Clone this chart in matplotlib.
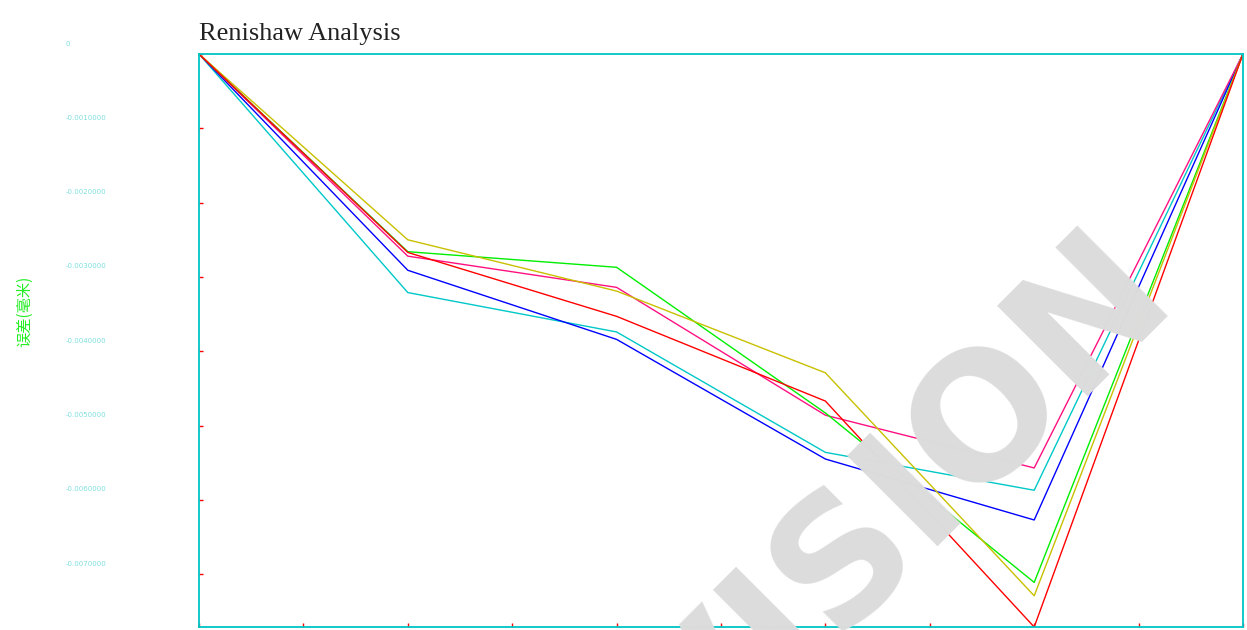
import matplotlib
matplotlib.use("Agg")
import matplotlib.pyplot as plt
import matplotlib.transforms as mtransforms

# measurement positions and deviation per run (mm)
positions = [0, 2, 4, 6, 8, 10]
run_cyan = [0, -0.00321, -0.00374, -0.00536, -0.00587, 0]
run_blue = [0, -0.00291, -0.00384, -0.00545, -0.00627, 0]
run_magenta = [0, -0.00272, -0.00314, -0.00486, -0.00557, 0]
run_green = [0, -0.00266, -0.00287, -0.00483, -0.00711, 0]
run_yellow = [0, -0.00250, -0.00319, -0.00429, -0.00729, 0]
run_red = [0, -0.00267, -0.00353, -0.00467, -0.00771, 0]

x_ticks = list(range(0, 11))
y_ticks = [0, -0.001, -0.002, -0.003, -0.004, -0.005, -0.006, -0.007]
y_tick_labels = ["0", "-0.0010000", "-0.0020000", "-0.0030000",
                 "-0.0040000", "-0.0050000", "-0.0060000", "-0.0070000"]

frame = "#00c4c4"

fig = plt.figure(figsize=(12.47, 6.30), dpi=100)
ax = fig.add_axes([199 / 1247, 3 / 630, 1044 / 1247, 573 / 630])

# watermark behind the curves
fig.text(0.725, 0.19, "VISION", rotation=45, fontsize=125, fontweight="bold",
         color="#dcdcdc", ha="center", va="center", zorder=0)
ax.set_facecolor("none")

runs = [
    (run_cyan, "#00c8c8"),
    (run_blue, "#0000ff"),
    (run_magenta, "#ff1080"),
    (run_green, "#00ee00"),
    (run_yellow, "#c8c000"),
    (run_red, "#ff0000"),
]
for vals, col in runs:
    ax.plot(positions, vals, color=col, lw=1.0)

ax.set_xlim(0, 10)
ax.set_ylim(min(run_red), 0)

for s in ax.spines.values():
    s.set_color(frame)
    s.set_linewidth(1.3)

ax.set_xticks(x_ticks)
ax.set_xticklabels([str(v) for v in x_ticks], fontsize=5, color="#80dede")
ax.set_yticks(y_ticks)
ax.set_yticklabels(y_tick_labels, fontsize=5, color="#80dede", ha="left")
ax.tick_params(axis="x", direction="in", length=3, width=1, color="red", pad=2)
ax.tick_params(axis="y", direction="in", length=3, width=1, color="red", pad=96)
shift = mtransforms.ScaledTranslation(0, 11 / 100, fig.dpi_scale_trans)
for lab in ax.get_yticklabels():
    lab.set_transform(lab.get_transform() + shift)

fig.text(25 / 1247, 1 - 311 / 630, "误差(毫米)", rotation=90, fontsize=11,
         color="#22ee22", ha="center", va="center",
         family=["Noto Sans CJK SC", "DejaVu Sans"])

fig.text(199 / 1247, 1 - 40 / 630, "Renishaw Analysis", fontsize=19,
         family=["Liberation Serif", "DejaVu Serif"], color="#222222",
         ha="left", va="baseline")

fig.savefig("out.png", dpi=100)
